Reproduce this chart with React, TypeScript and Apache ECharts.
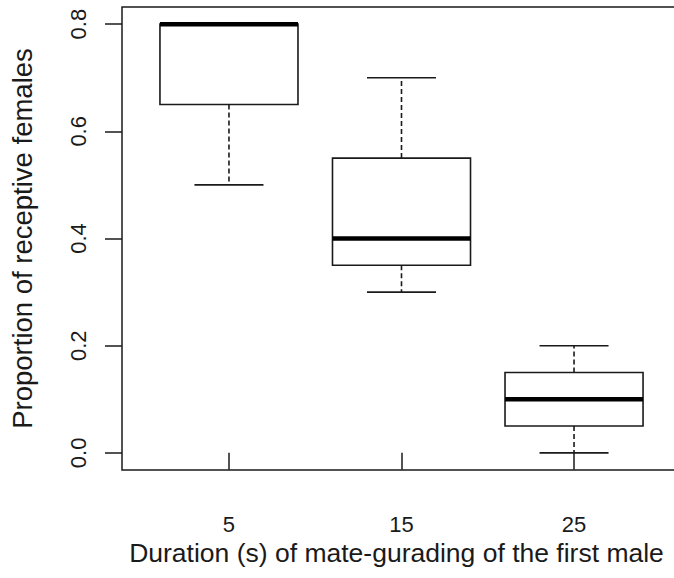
import React, { useEffect, useRef } from "react";
import * as echarts from "echarts";

const categories = ["5", "15", "25"];
const whiskerLow = [0.5, 0.3, 0.0];
const quartile1 = [0.65, 0.35, 0.05];
const medians = [0.8, 0.4, 0.1];
const quartile3 = [0.8, 0.55, 0.15];
const whiskerHigh = [0.8, 0.7, 0.2];
const yTicks = [0, 0.2, 0.4, 0.6, 0.8];
const yTickLabels = ["0.0", "0.2", "0.4", "0.6", "0.8"];
const xTicks = [1, 2, 3];

const FONT = "Liberation Sans";

export default function App() {
  const ref = useRef<HTMLDivElement>(null);
  useEffect(() => {
    if (!ref.current) return;
    document.body.style.overflow = "hidden";
    const chart = echarts.init(ref.current, undefined, { renderer: "svg" });
    const data = categories.map((_, i) => [
      i + 1,
      whiskerLow[i],
      quartile1[i],
      medians[i],
      quartile3[i],
      whiskerHigh[i],
    ]);
    const stroke = "#1a1a1a";
    chart.setOption({
      animation: false,
      backgroundColor: "#ffffff",
      grid: {
        left: 121,
        top: 7,
        right: 9,
        bottom: 108,
        show: true,
        borderColor: stroke,
        borderWidth: 1.5,
        backgroundColor: "transparent",
      },
      xAxis: {
        type: "value",
        min: 0.38,
        max: 3.62,
        axisLine: { show: false },
        splitLine: { show: false },
        axisTick: {
          show: true,
          customValues: xTicks,
          length: 17,
          lineStyle: { color: stroke, width: 1.5 },
        },
        axisLabel: {
          customValues: xTicks,
          formatter: (v: number) => categories[Math.round(v) - 1] ?? "",
          margin: 43,
          fontFamily: FONT,
          fontSize: 22,
          color: "#1a1a1a",
        },
        name: "Duration (s) of mate-gurading of the first male",
        nameLocation: "middle",
        nameGap: 66,
        nameTextStyle: { fontFamily: FONT, fontSize: 26.5, color: "#1a1a1a", padding: [0, 10, 0, 0] },
      },
      yAxis: {
        type: "value",
        min: -0.032,
        max: 0.832,
        axisLine: { show: false },
        splitLine: { show: false },
        axisTick: {
          show: true,
          customValues: yTicks,
          length: 17,
          lineStyle: { color: stroke, width: 1.5 },
        },
        axisLabel: {
          customValues: yTicks,
          formatter: (v: number) => {
            const idx = yTicks.findIndex((t) => Math.abs(t - v) < 1e-9);
            return idx >= 0 ? yTickLabels[idx] : "";
          },
          rotate: 90,
          margin: 33,
          fontFamily: FONT,
          fontSize: 22,
          color: "#1a1a1a",
        },
        name: "Proportion of receptive females",
        nameLocation: "middle",
        nameGap: 86,
        nameTextStyle: { fontFamily: FONT, fontSize: 27.5, color: "#1a1a1a" },
      },
      series: [
        {
          type: "custom",
          data,
          encode: { x: 0, y: [1, 2, 3, 4, 5] },
          renderItem: (params: any, api: any) => {
            const pos = api.value(0);
            const low = api.value(1);
            const q1 = api.value(2);
            const med = api.value(3);
            const q3 = api.value(4);
            const high = api.value(5);
            const cx = api.coord([pos, med])[0];
            const y = (v: number) => api.coord([pos, v])[1];
            const bw = api.size([1, 0])[0] * 0.8;
            const cw = bw / 2;
            const dashStyle = { stroke, lineWidth: 1.6, lineDash: [5, 3], fill: null };
            const solid = { stroke, lineWidth: 1.6, fill: null };
            return {
              type: "group",
              children: [
                { type: "line", shape: { x1: cx, y1: y(q1), x2: cx, y2: y(low) }, style: dashStyle },
                { type: "line", shape: { x1: cx, y1: y(q3), x2: cx, y2: y(high) }, style: dashStyle },
                { type: "line", shape: { x1: cx - cw / 2, y1: y(low), x2: cx + cw / 2, y2: y(low) }, style: solid },
                { type: "line", shape: { x1: cx - cw / 2, y1: y(high), x2: cx + cw / 2, y2: y(high) }, style: solid },
                {
                  type: "rect",
                  shape: { x: cx - bw / 2, y: y(q3), width: bw, height: y(q1) - y(q3) },
                  style: { fill: "#ffffff", stroke, lineWidth: 1.6 },
                },
                { type: "line", shape: { x1: cx - bw / 2, y1: y(med), x2: cx + bw / 2, y2: y(med) }, style: { stroke: "#000", lineWidth: 4.5 } },
              ],
            };
          },
        },
      ],
    });
    return () => chart.dispose();
  }, []);
  return (
    <div
      ref={ref}
      style={{ position: "fixed", left: 0, top: 0, width: 690, height: 578, background: "#fff" }}
    />
  );
}
